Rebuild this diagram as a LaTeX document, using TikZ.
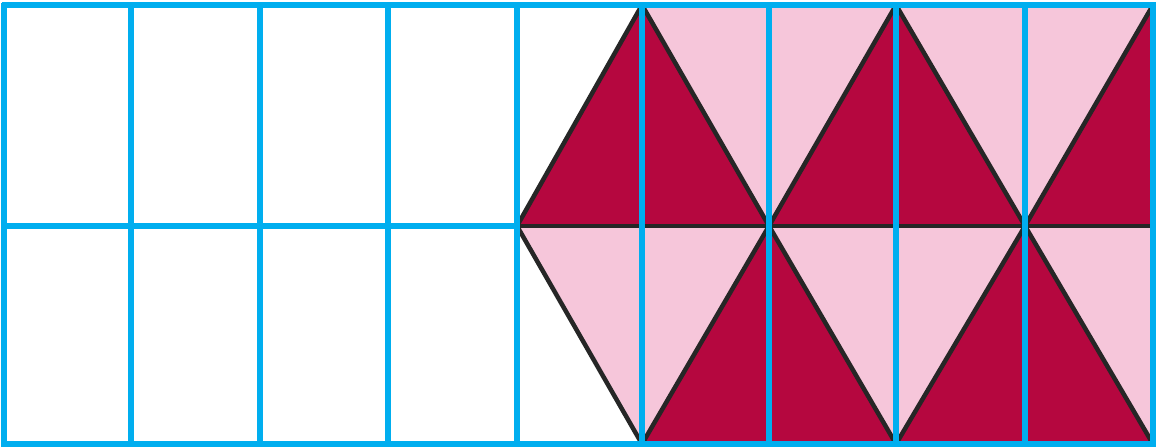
\documentclass[tikz,border=0pt]{standalone}
\definecolor{gridblue}{HTML}{00AEEF}
\definecolor{darkred}{HTML}{B5073F}
\definecolor{lightpink}{HTML}{F6C6DA}
\begin{document}
\begin{tikzpicture}[x=1pt,y=-1pt,
  gridline/.style={draw=gridblue,line width=5.5pt},
  edge/.style={draw=black!85,line width=4.5pt,line join=round,line cap=round}]
\useasboundingbox (0,0) rectangle (1156,447);
\fill[white] (0,0) rectangle (1156,447);
% coordinates
\coordinate (m0) at (517,226);
\coordinate (t1) at (642,5);
\coordinate (m1) at (769,226);
\coordinate (t2) at (896,5);
\coordinate (m2) at (1025,226);
\coordinate (t3) at (1153,5);
\coordinate (m3) at (1153,226);
\coordinate (b1) at (642,444);
\coordinate (b2) at (896,444);
\coordinate (b3) at (1153,444);
% pink background
\fill[lightpink] (m0) -- (t1) -- (t3) -- (b3) -- (b1) -- cycle;
% dark triangles
\fill[darkred] (m0) -- (t1) -- (m1) -- cycle;
\fill[darkred] (m1) -- (t2) -- (m2) -- cycle;
\fill[darkred] (m2) -- (t3) -- (m3) -- cycle;
\fill[darkred] (b1) -- (m1) -- (b2) -- cycle;
\fill[darkred] (b2) -- (m2) -- (b3) -- cycle;
% black edges
\draw[edge] (m0) -- (t1) -- (m1) -- (t2) -- (m2) -- (t3);
\draw[edge] (m0) -- (b1) -- (m1) -- (b2) -- (m2) -- (b3);
\draw[edge] (m0) -- (m3);
% blue grid
\foreach \x in {4,131,260,388,517,642,769,896,1025,1153}
  \draw[gridline] (\x,2.5) -- (\x,446.5);
\draw[gridline] (1.5,5) -- (1155.5,5);
\draw[gridline] (1.5,444) -- (1155.5,444);
\draw[gridline] (1.5,226) -- (517,226);
\end{tikzpicture}
\end{document}
